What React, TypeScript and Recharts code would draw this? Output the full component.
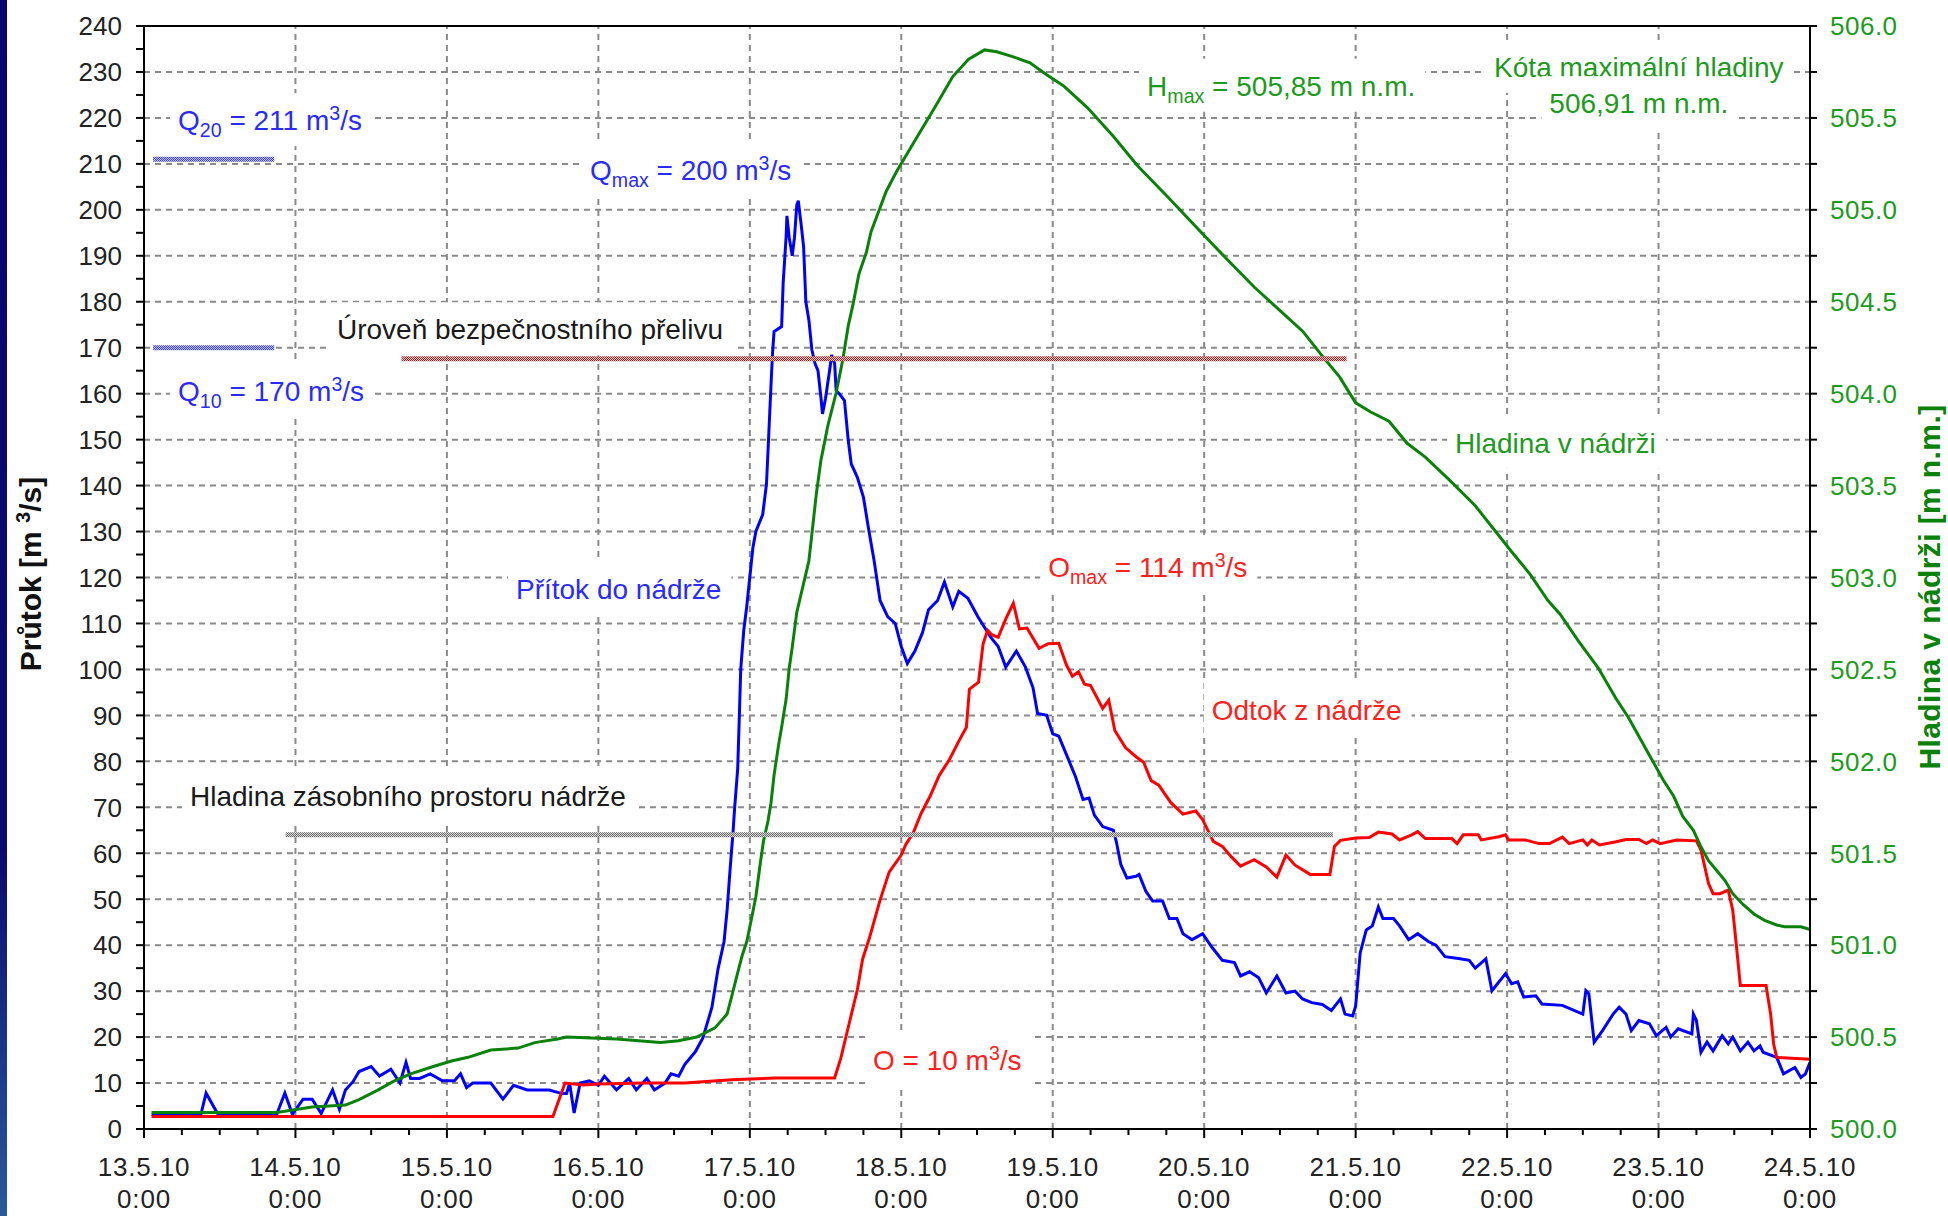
import { LineChart, Line, XAxis, YAxis, ReferenceLine } from "recharts"

const FONT = "'Liberation Sans', Arial, sans-serif"

const dayLabels = [
  "13.5.10", "14.5.10", "15.5.10", "16.5.10", "17.5.10", "18.5.10",
  "19.5.10", "20.5.10", "21.5.10", "22.5.10", "23.5.10", "24.5.10",
]
const timeLabel = "0:00"

// [days from 13.5.10 0:00, m3/s]
const inflow: [number, number][] = [
  [0.05, 3.1], [0.375, 3.1], [0.41, 7.8], [0.49, 3.1], [0.875, 3.1], [0.93, 7.8], [0.98, 3.2],
  [1.05, 6.5], [1.11, 6.5], [1.17, 3.4], [1.245, 8.5], [1.29, 4.3], [1.33, 8.5], [1.38, 10.3],
  [1.42, 12.5], [1.5, 13.6], [1.555, 11.5], [1.63, 13], [1.69, 10], [1.73, 14.5], [1.76, 11],
  [1.82, 11], [1.89, 12], [1.97, 10.5], [2.05, 10.5], [2.09, 12], [2.13, 9], [2.17, 10],
  [2.29, 10], [2.37, 6.5], [2.44, 9.5], [2.53, 8.5], [2.675, 8.5], [2.76, 7.7], [2.79, 7.7],
  [2.81, 10], [2.84, 3.5], [2.88, 10], [2.94, 10.5], [3.0, 9.5], [3.04, 11.5], [3.12, 8.5],
  [3.2, 11], [3.25, 8.5], [3.32, 11], [3.37, 8.5], [3.44, 10], [3.48, 12], [3.53, 11.5],
  [3.57, 14], [3.64, 16.8], [3.69, 19.8], [3.75, 26.5], [3.79, 34.8], [3.83, 40.8], [3.85, 47.6],
  [3.87, 56.6], [3.89, 65], [3.9, 70], [3.92, 78.4], [3.93, 89], [3.94, 100], [3.96, 108.5],
  [3.98, 113.8], [4.02, 126.4], [4.04, 130], [4.085, 133.7], [4.11, 140.3], [4.125, 151],
  [4.14, 162], [4.15, 168.8], [4.16, 173.5], [4.21, 174.6], [4.22, 184], [4.24, 194.3],
  [4.245, 198.7], [4.26, 194], [4.28, 190], [4.295, 194], [4.31, 201], [4.32, 202], [4.34, 196.5],
  [4.355, 192], [4.37, 180], [4.39, 176], [4.41, 169.5], [4.43, 166.6], [4.45, 165], [4.47, 159],
  [4.48, 155.6], [4.5, 159], [4.53, 165.8], [4.54, 168.4], [4.56, 166.6], [4.57, 160.7],
  [4.59, 160], [4.625, 158.5], [4.65, 149.8], [4.67, 144.7], [4.71, 141.8], [4.75, 137.5],
  [4.785, 130.4], [4.82, 123.8], [4.86, 115], [4.91, 111.5], [4.96, 110], [5.0, 105],
  [5.04, 101.3], [5.09, 104], [5.14, 108], [5.18, 113], [5.24, 115], [5.285, 119], [5.34, 113.6],
  [5.38, 117], [5.44, 115.5], [5.505, 111.5], [5.59, 107], [5.64, 105], [5.69, 100.5], [5.76, 104],
  [5.82, 100.5], [5.87, 96], [5.9, 90.4], [5.96, 90], [6.0, 86], [6.04, 85.5], [6.09, 81.5],
  [6.15, 76.7], [6.2, 71.7], [6.24, 72], [6.275, 68.3], [6.33, 65.8], [6.4, 65], [6.42, 62.5],
  [6.45, 57.5], [6.49, 54.6], [6.55, 55], [6.57, 55.4], [6.615, 51.7], [6.66, 49.6], [6.725, 49.6],
  [6.77, 45.8], [6.82, 45.8], [6.86, 42.5], [6.92, 41.2], [6.99, 42.5], [7.05, 39.6], [7.12, 36.7],
  [7.2, 36.2], [7.24, 33.3], [7.3, 34.2], [7.36, 32.9], [7.41, 29.6], [7.48, 33.3], [7.54, 29.6],
  [7.6, 30], [7.65, 28.3], [7.71, 27.5], [7.78, 27.1], [7.84, 25.8], [7.9, 28.3], [7.93, 25],
  [7.98, 24.6], [8.0, 26.7], [8.03, 38.3], [8.07, 43.3], [8.11, 44.2], [8.15, 48.3], [8.18, 45.8],
  [8.25, 45.8], [8.29, 44.2], [8.35, 41.2], [8.41, 42.5], [8.48, 40.8], [8.53, 40], [8.59, 37.5],
  [8.68, 37.1], [8.75, 36.7], [8.79, 35], [8.86, 37], [8.9, 30.1], [8.99, 33.8], [9.03, 31.6],
  [9.07, 32], [9.11, 28.7], [9.19, 29], [9.23, 27.2], [9.365, 26.9], [9.5, 25], [9.52, 30.1],
  [9.54, 29.4], [9.575, 18.9], [9.63, 21.4], [9.7, 25], [9.74, 26.5], [9.785, 25], [9.82, 21.4],
  [9.87, 23.6], [9.94, 22.9], [9.985, 20.3], [10.05, 22.1], [10.08, 20], [10.13, 21.8],
  [10.22, 20.7], [10.23, 25], [10.25, 23.6], [10.28, 16.7], [10.32, 18.9], [10.36, 17],
  [10.42, 20.3], [10.46, 18.5], [10.49, 20], [10.54, 17], [10.59, 18.9], [10.63, 17],
  [10.67, 18.1], [10.69, 16.7], [10.78, 15.6], [10.825, 12], [10.9, 13.4], [10.94, 11.2],
  [10.97, 12], [11.0, 14.5],
]

const outflow: [number, number][] = [
  [0.05, 2.7], [2.7, 2.7], [2.78, 10], [2.9, 9.6], [3.0, 9.8], [3.3, 10], [3.57, 10], [3.88, 10.7],
  [4.17, 11.1], [4.56, 11.1], [4.6, 15.3], [4.66, 23.5], [4.71, 30.3], [4.745, 37], [4.79, 41.6],
  [4.86, 49.8], [4.92, 55.9], [5.0, 59.6], [5.03, 61.9], [5.08, 64.5], [5.13, 68.6], [5.19, 72.4],
  [5.25, 76.9], [5.32, 80.5], [5.38, 84.4], [5.43, 87.4], [5.45, 95.7], [5.51, 97.2], [5.54, 105.5],
  [5.57, 108.5], [5.6, 107.5], [5.64, 107], [5.69, 111], [5.74, 114.4], [5.78, 108.8], [5.83, 109],
  [5.91, 104.6], [5.97, 105.6], [6.04, 105.7], [6.09, 101], [6.13, 98.5], [6.17, 99.5], [6.21, 96.8],
  [6.25, 96.5], [6.33, 91.5], [6.37, 93.3], [6.41, 86.7], [6.48, 83], [6.55, 81], [6.6, 79.8],
  [6.65, 75.8], [6.7, 74.8], [6.78, 71], [6.86, 68.5], [6.945, 69.2], [6.99, 67.3], [7.06, 62.6],
  [7.12, 61.5], [7.18, 59.2], [7.24, 57.2], [7.33, 58.6], [7.41, 57], [7.48, 54.8], [7.54, 59.6],
  [7.6, 57.4], [7.7, 55.4], [7.83, 55.4], [7.86, 61.5], [7.9, 62.8], [8.0, 63.3], [8.09, 63.4],
  [8.15, 64.6], [8.24, 64.2], [8.29, 62.9], [8.37, 64], [8.41, 64.7], [8.46, 63.2], [8.635, 63.2],
  [8.67, 62.1], [8.71, 64], [8.81, 64], [8.83, 62.9], [8.945, 63.6], [8.99, 64], [9.01, 62.9],
  [9.12, 62.9], [9.21, 62.1], [9.28, 62.1], [9.365, 63.5], [9.41, 62.1], [9.5, 62.9], [9.53, 61.8],
  [9.56, 62.9], [9.61, 61.8], [9.72, 62.5], [9.785, 63], [9.87, 63], [9.92, 62.1], [9.96, 62.9],
  [10.01, 62.1], [10.12, 62.9], [10.25, 62.7], [10.28, 60.7], [10.305, 57.1], [10.33, 53.4],
  [10.36, 51.2], [10.405, 51.2], [10.46, 52], [10.49, 47.6], [10.515, 39.6], [10.54, 31.2],
  [10.71, 31.2], [10.74, 25], [10.76, 18.5], [10.78, 15.6], [11.0, 15.2],
]

// [days, m n.m.]
const level: [number, number][] = [
  [0.05, 500.09], [0.875, 500.09], [1.11, 500.12], [1.33, 500.13], [1.42, 500.16], [1.54, 500.21],
  [1.65, 500.26], [1.76, 500.3], [1.91, 500.34], [2.03, 500.37], [2.14, 500.39], [2.29, 500.43],
  [2.47, 500.44], [2.58, 500.47], [2.73, 500.49], [2.79, 500.5], [3.12, 500.49], [3.41, 500.47],
  [3.53, 500.48], [3.65, 500.5], [3.77, 500.55], [3.85, 500.625], [3.88, 500.72], [3.92, 500.85],
  [3.95, 500.945], [3.98, 501.02], [4.015, 501.16], [4.04, 501.265], [4.07, 501.45], [4.09, 501.565],
  [4.12, 501.675], [4.14, 501.775], [4.16, 501.925], [4.19, 502.09], [4.21, 502.185], [4.24, 502.34],
  [4.26, 502.505], [4.28, 502.62], [4.31, 502.81], [4.39, 503.09], [4.44, 503.46], [4.47, 503.64],
  [4.515, 503.825], [4.57, 504.005], [4.615, 504.19], [4.65, 504.37], [4.68, 504.48], [4.72, 504.65],
  [4.77, 504.77], [4.8, 504.88], [4.85, 504.99], [4.9, 505.1], [4.97, 505.21], [5.06, 505.335],
  [5.22, 505.555], [5.34, 505.725], [5.445, 505.82], [5.55, 505.87], [5.63, 505.86], [5.73, 505.835],
  [5.85, 505.8], [5.95, 505.74], [6.07, 505.675], [6.23, 505.555], [6.4, 505.4], [6.56, 505.24],
  [6.76, 505.07], [7.0, 504.86], [7.17, 504.715], [7.33, 504.58], [7.49, 504.46], [7.65, 504.34],
  [7.77, 504.215], [7.895, 504.09], [8.0, 503.95], [8.1, 503.9], [8.22, 503.85], [8.34, 503.73],
  [8.46, 503.655], [8.62, 503.53], [8.79, 503.39], [8.91, 503.265], [9.03, 503.14], [9.15, 503.02],
  [9.27, 502.875], [9.35, 502.8], [9.47, 502.655], [9.6, 502.51], [9.72, 502.34], [9.8, 502.24],
  [10.03, 501.9], [10.1, 501.81], [10.16, 501.7], [10.23, 501.625], [10.28, 501.535], [10.33, 501.46],
  [10.38, 501.41], [10.44, 501.35], [10.49, 501.28], [10.56, 501.22], [10.63, 501.17], [10.7, 501.135],
  [10.78, 501.11], [10.83, 501.1], [10.94, 501.1], [11.0, 501.085],
]

// characteristic flows and levels
const q20 = 211
const q10 = 170
const qSpan = [0.06, 0.86]
const spillwayLevel = 504.19
const spillwaySpan = [1.7, 7.94]
const storageLevel = 501.6
const storageSpan = [0.935, 7.85]

const xTicks = Array.from({ length: 45 }, (_, i) => i * 0.25)
const qTicks = Array.from({ length: 49 }, (_, i) => i * 5)
const hTicks = Array.from({ length: 25 }, (_, i) => 500 + i * 0.25)
const qGrid = Array.from({ length: 23 }, (_, i) => (i + 1) * 10)
const dayGrid = Array.from({ length: 10 }, (_, i) => i + 1)

const BLUE = "#0000ff"
const RED = "#ff0000"
const GREEN = "#0a820a"
const TBLUE = "#2a2aff"
const TRED = "#ff2020"
const TGREEN = "#1e9a1e"

type Part = { t: string; s?: "sub" | "sup" }
type Note = { d: number; q: number; color: string; anchor?: "start" | "middle"; parts: Part[] }

const notes: Note[] = [
  { d: 0.225, q: 219.5, color: TBLUE, parts: [{ t: "Q" }, { t: "20", s: "sub" }, { t: " = 211 m" }, { t: "3", s: "sup" }, { t: "/s" }] },
  { d: 0.225, q: 160.6, color: TBLUE, parts: [{ t: "Q" }, { t: "10", s: "sub" }, { t: " = 170 m" }, { t: "3", s: "sup" }, { t: "/s" }] },
  { d: 2.945, q: 208.7, color: TBLUE, parts: [{ t: "Q" }, { t: "max", s: "sub" }, { t: " = 200 m" }, { t: "3", s: "sup" }, { t: "/s" }] },
  { d: 1.274, q: 174, color: "#1a1a1a", parts: [{ t: "Úroveň bezpečnostního přelivu" }] },
  { d: 2.456, q: 117.5, color: TBLUE, parts: [{ t: "Přítok do nádrže" }] },
  { d: 5.97, q: 122.3, color: TRED, parts: [{ t: "O" }, { t: "max", s: "sub" }, { t: " = 114 m" }, { t: "3", s: "sup" }, { t: "/s" }] },
  { d: 7.05, q: 91.2, color: TRED, parts: [{ t: "Odtok z nádrže" }] },
  { d: 0.304, q: 72.5, color: "#1a1a1a", parts: [{ t: "Hladina zásobního prostoru nádrže" }] },
  { d: 4.813, q: 15, color: TRED, parts: [{ t: "O = 10 m" }, { t: "3", s: "sup" }, { t: "/s" }] },
  { d: 6.623, q: 227, color: TGREEN, parts: [{ t: "H" }, { t: "max", s: "sub" }, { t: " = 505,85 m n.m." }] },
  { d: 9.87, q: 231.1, color: TGREEN, anchor: "middle", parts: [{ t: "Kóta maximální hladiny" }] },
  { d: 9.87, q: 223.2, color: TGREEN, anchor: "middle", parts: [{ t: "506,91 m n.m." }] },
  { d: 8.656, q: 149.3, color: TGREEN, parts: [{ t: "Hladina v nádrži" }] },
]

let measureCtx: CanvasRenderingContext2D | null = null
function textWidth(t: string, size: number) {
  if (!measureCtx) measureCtx = document.createElement("canvas").getContext("2d")
  if (!measureCtx) return t.length * size * 0.5
  measureCtx.font = `${size}px 'Liberation Sans', Arial, sans-serif`
  return measureCtx.measureText(t).width
}

function RichText({ x, y, parts, color, anchor = "start", size = 28 }: any) {
  let shift = 0
  let w = 0
  const spans = parts.map((p: Part, i: number) => {
    const want = p.s === "sub" ? 7 : p.s === "sup" ? -10 : 0
    const dy = want - shift
    shift = want
    const fs = p.s ? size * 0.7 : size
    w += textWidth(p.t, fs)
    return (
      <tspan key={i} dy={dy} fontSize={fs}>
        {p.t}
      </tspan>
    )
  })
  const x0 = anchor === "middle" ? x - w / 2 : x
  return (
    <g>
      <rect x={x0 - 8} y={y - 27} width={w + 18} height={53} fill="#fff" />
      <text x={x} y={y + size * 0.36} textAnchor={anchor} fontFamily={FONT} fill={color} style={{ whiteSpace: "pre" }}>
        {spans}
      </text>
    </g>
  )
}

function XTick(props: any) {
  const { x, y, payload } = props
  const v = payload.value
  const major = Math.abs(v - Math.round(v)) < 1e-6
  return (
    <g>
      <line x1={x} x2={x} y1={y} y2={y + (major ? 9 : 6)} stroke="#000" strokeWidth={2} />
      {major && (
        <text x={x} y={y + 47} textAnchor="middle" fontSize={26} fill="#222" fontFamily={FONT} letterSpacing={0.8}>
          {dayLabels[Math.round(v)]}
        </text>
      )}
      {major && (
        <text x={x} y={y + 79} textAnchor="middle" fontSize={26} fill="#222" fontFamily={FONT} letterSpacing={0.8}>
          {timeLabel}
        </text>
      )}
    </g>
  )
}

function QTick(props: any) {
  const { x, y, payload } = props
  const v = payload.value
  return (
    <g>
      <line x1={x - 8} x2={x} y1={y} y2={y} stroke="#000" strokeWidth={2} />
      {v % 10 === 0 && (
        <text x={x - 22} y={y + 9.3} textAnchor="end" fontSize={26} fill="#222" fontFamily={FONT}>
          {v}
        </text>
      )}
    </g>
  )
}

function HTick(props: any) {
  const { x, y, payload } = props
  const v = payload.value
  const major = Math.abs(v * 2 - Math.round(v * 2)) < 1e-6
  return (
    <g>
      <line x1={x} x2={x + 7} y1={y} y2={y} stroke="#000" strokeWidth={2} />
      {major && (
        <text x={x + 20} y={y + 9.3} textAnchor="start" fontSize={26} fill={TGREEN} fontFamily={FONT} letterSpacing={0.5}>
          {v.toFixed(1)}
        </text>
      )}
    </g>
  )
}

const toPts = (arr: [number, number][]) => arr.map(([d, v]) => ({ d, v }))
const seg = (span: number[], v: number) => [{ d: span[0], v }, { d: span[1], v }]

export default function App() {
  const noteData = notes.map((n) => ({ d: n.d, v: n.q, note: n }))
  const plain = { dot: false, activeDot: false, isAnimationActive: false } as const
  const gridLine = { ...plain, stroke: "#8a8a8a", strokeWidth: 2, strokeDasharray: "6 5", yAxisId: "q", dataKey: "v" }
  const hatch = (id: string) => ({ ...plain, stroke: `url(#${id})`, strokeWidth: 5, strokeLinecap: "butt" as const })
  return (
    <div style={{ position: "relative", width: 1948, height: 1216, background: "#fff", fontFamily: FONT }}>
      <style>{"body{margin:0}"}</style>
      <LineChart width={1948} height={1216} margin={{ top: 26, right: 0, bottom: 0, left: 0 }}>
        <defs>
          <pattern id="hatchBlue" width="2" height="2" patternUnits="userSpaceOnUse">
            <rect width="2" height="2" fill="#c4c4ff" />
            <rect width="1" height="1" fill="#3c3cff" />
            <rect x="1" y="1" width="1" height="1" fill="#3c3cff" />
          </pattern>
          <pattern id="hatchBrown" width="2" height="2" patternUnits="userSpaceOnUse">
            <rect width="2" height="2" fill="#ecd0d0" />
            <rect width="1" height="1" fill="#a01c1c" />
            <rect x="1" y="1" width="1" height="1" fill="#a01c1c" />
          </pattern>
          <pattern id="hatchGray" width="2" height="2" patternUnits="userSpaceOnUse">
            <rect width="2" height="2" fill="#dadada" />
            <rect width="1" height="1" fill="#6a6a6a" />
            <rect x="1" y="1" width="1" height="1" fill="#6a6a6a" />
          </pattern>
        </defs>
        <XAxis
          type="number"
          dataKey="d"
          domain={[0, 11]}
          ticks={xTicks}
          interval={0}
          height={87}
          tickSize={0}
          tickMargin={0}
          tickLine={false}
          axisLine={{ stroke: "#000", strokeWidth: 2 }}
          tick={(p: any) => <XTick {...p} />}
        />
        <YAxis
          yAxisId="q"
          type="number"
          domain={[0, 240]}
          ticks={qTicks}
          interval={0}
          width={144}
          tickSize={0}
          tickMargin={0}
          tickLine={false}
          axisLine={{ stroke: "#000", strokeWidth: 2 }}
          tick={(p: any) => <QTick {...p} />}
        />
        <YAxis
          yAxisId="h"
          orientation="right"
          type="number"
          domain={[500, 506]}
          ticks={hTicks}
          interval={0}
          width={138}
          tickSize={0}
          tickMargin={0}
          tickLine={false}
          axisLine={{ stroke: "#000", strokeWidth: 2 }}
          tick={(p: any) => <HTick {...p} />}
        />

        {/* dashed grid */}
        {qGrid.map((v) => (
          <Line key={"gh" + v} data={seg([0, 11], v)} {...gridLine} />
        ))}
        {dayGrid.map((d) => (
          <Line key={"gv" + d} data={[{ d, v: 0 }, { d, v: 240 }]} {...gridLine} />
        ))}

        <ReferenceLine yAxisId="q" y={240} stroke="#000" strokeWidth={2} />

        <Line data={toPts(inflow)} yAxisId="q" dataKey="v" stroke={BLUE} strokeWidth={3} {...plain} />
        <Line data={toPts(outflow)} yAxisId="q" dataKey="v" stroke={RED} strokeWidth={3} {...plain} />
        <Line data={toPts(level)} yAxisId="h" dataKey="v" stroke={GREEN} strokeWidth={3} {...plain} />

        <Line data={seg(qSpan, q20)} yAxisId="q" dataKey="v" {...hatch("hatchBlue")} />
        <Line data={seg(qSpan, q10)} yAxisId="q" dataKey="v" {...hatch("hatchBlue")} />
        <Line data={seg(spillwaySpan, spillwayLevel)} yAxisId="h" dataKey="v" {...hatch("hatchBrown")} />
        <Line data={seg(storageSpan, storageLevel)} yAxisId="h" dataKey="v" {...hatch("hatchGray")} />

        <Line
          data={noteData}
          yAxisId="q"
          dataKey="v"
          stroke="none"
          activeDot={false}
          isAnimationActive={false}
          dot={(p: any) => {
            const n: Note = p.payload.note
            return <RichText key={"n" + p.index} x={p.cx} y={p.cy} parts={n.parts} color={n.color} anchor={n.anchor} />
          }}
        />
      </LineChart>
      <svg width={1948} height={1216} style={{ position: "absolute", left: 0, top: 0, pointerEvents: "none" }}>
        <text transform="translate(31,574) rotate(-90)" y={10} textAnchor="middle" fontFamily={FONT} fontWeight="bold" fontSize={30} fill="#111">
          <tspan>Průtok [m </tspan>
          <tspan dy={-11} fontSize={20}>3</tspan>
          <tspan dy={11}>/s]</tspan>
        </text>
        <text transform="translate(1930,587) rotate(-90)" y={10} textAnchor="middle" fontFamily={FONT} fontWeight="bold" fontSize={30} letterSpacing={0.4} fill={GREEN}>
          Hladina v nádrži [m n.m.]
        </text>
      </svg>
      <div
        style={{
          position: "absolute",
          left: 0,
          top: 0,
          width: 7,
          height: 1216,
          background: "linear-gradient(#06066e, #0a0a6e 70%, #2a5a9a)",
        }}
      />
    </div>
  )
}
